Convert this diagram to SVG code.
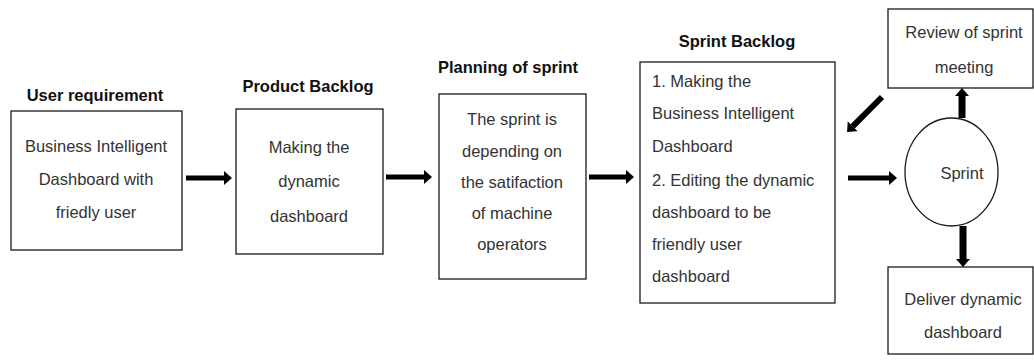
<svg xmlns="http://www.w3.org/2000/svg" width="1034" height="363" viewBox="0 0 1034 363">
  <style>
    .box { fill: #fff; stroke: #1a1a1a; stroke-width: 1.3; }
    .title { font-family: "Liberation Sans", Arial, sans-serif; font-size: 16.5px; font-weight: bold; fill: #111; text-anchor: middle; }
    .body { font-family: "Liberation Sans", Arial, sans-serif; font-size: 16.5px; fill: #333; }
    .mid { text-anchor: middle; }
    .shaft { stroke: #000; fill: none; marker-end: url(#head); }
  </style>
  <defs>
    <marker id="head" markerUnits="userSpaceOnUse" markerWidth="10" markerHeight="16" refX="0" refY="7" orient="auto">
      <path d="M0,0 L8,7 L0,14 z" fill="#000"/>
    </marker>
  </defs>

  <rect width="1034" height="363" fill="#fff"/>

  <!-- User requirement -->
  <g id="user-requirement">
    <text class="title" x="95" y="101">User requirement</text>
    <rect class="box" x="11" y="111" width="171" height="139"/>
    <text class="body mid" x="96" y="152">Business Intelligent</text>
    <text class="body mid" x="96" y="185">Dashboard with</text>
    <text class="body mid" x="96" y="218">friedly user</text>
  </g>

  <!-- Product backlog -->
  <g id="product-backlog">
    <text class="title" x="308" y="92">Product Backlog</text>
    <rect class="box" x="236" y="109" width="147" height="145"/>
    <text class="body mid" x="309" y="153">Making the</text>
    <text class="body mid" x="309" y="187">dynamic</text>
    <text class="body mid" x="309" y="222">dashboard</text>
  </g>

  <!-- Planning of sprint -->
  <g id="planning">
    <text class="title" x="508" y="73">Planning of sprint</text>
    <rect class="box" x="439" y="94" width="147" height="185"/>
    <text class="body mid" x="512" y="125">The sprint is</text>
    <text class="body mid" x="512" y="157">depending on</text>
    <text class="body mid" x="512" y="188">the satifaction</text>
    <text class="body mid" x="512" y="219">of machine</text>
    <text class="body mid" x="512" y="250">operators</text>
  </g>

  <!-- Sprint backlog -->
  <g id="sprint-backlog">
    <text class="title" x="737" y="47">Sprint Backlog</text>
    <rect class="box" x="640" y="62" width="195" height="241"/>
    <text class="body" x="652" y="87">1. Making the</text>
    <text class="body" x="652" y="119">Business Intelligent</text>
    <text class="body" x="652" y="152">Dashboard</text>
    <text class="body" x="652" y="186">2. Editing the dynamic</text>
    <text class="body" x="652" y="218">dashboard to be</text>
    <text class="body" x="652" y="250">friendly user</text>
    <text class="body" x="652" y="282">dashboard</text>
  </g>

  <!-- Sprint -->
  <g id="sprint">
    <ellipse class="box" cx="951.5" cy="172" rx="46.5" ry="54"/>
    <text class="body mid" x="962" y="179">Sprint</text>
  </g>

  <!-- Review of sprint meeting -->
  <g id="review">
    <rect class="box" x="888" y="9" width="145" height="79"/>
    <text class="body mid" x="964" y="38">Review of sprint</text>
    <text class="body mid" x="964" y="73">meeting</text>
  </g>

  <!-- Deliver dynamic dashboard -->
  <g id="deliver">
    <rect class="box" x="888" y="267" width="145" height="87"/>
    <text class="body mid" x="963" y="305">Deliver dynamic</text>
    <text class="body mid" x="963" y="338">dashboard</text>
  </g>

  <!-- Connectors -->
  <g id="connectors">
    <line class="shaft" x1="186" y1="178" x2="224" y2="178" stroke-width="5"/>
    <line class="shaft" x1="386" y1="177" x2="424" y2="177" stroke-width="5"/>
    <line class="shaft" x1="589" y1="177" x2="626" y2="177" stroke-width="5"/>
    <line class="shaft" x1="848" y1="178" x2="889" y2="178" stroke-width="5"/>
    <line class="shaft" x1="882" y1="97" x2="852.7" y2="126.3" stroke-width="6"/>
    <line class="shaft" x1="962" y1="118" x2="962" y2="96" stroke-width="7"/>
    <line class="shaft" x1="963" y1="226" x2="963" y2="259" stroke-width="7"/>
  </g>
</svg>
